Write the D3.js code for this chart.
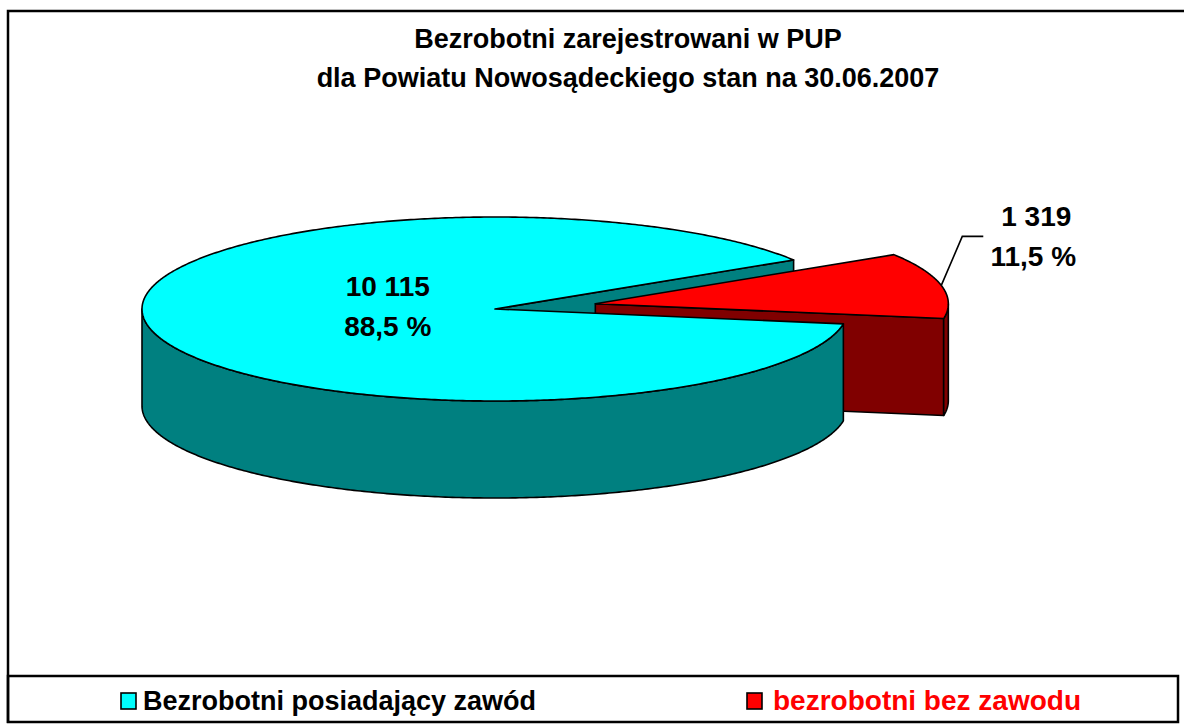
<!DOCTYPE html>
<html>
<head>
  <meta charset="utf-8" />
  <title>Bezrobotni zarejestrowani w PUP</title>
  <script src="https://d3js.org/d3.v7.min.js"></script>
  <style>
    body {
      margin: 0;
      background: #fff;
      font-family: Arial, "Liberation Sans", sans-serif;
    }
    svg text {
      font-weight: bold;
    }
  </style>
</head>
<body>
  <div id="chart"></div>

  <script>
    // data
    var categories = ["Bezrobotni posiadający zawód", "bezrobotni bez zawodu"];
    var values = [10115, 1319];
    var topColors = ["#00ffff", "#ff0000"];
    var sideColors = ["#008080", "#800000"];
    var legendTextColors = ["#000000", "#ff0000"];
    var explode = [0, 0.29];
    var titleLines = ["Bezrobotni zarejestrowani w PUP", "dla Powiatu Nowosądeckiego stan na 30.06.2007"];

    var width = 1184;
    var height = 724;

    // pie geometry (ellipse seen from above at an angle)
    var cx = 495, cy = 309;
    var rx = 353, ry = 92;
    var depth = 97;
    var rotation = 99.3 * Math.PI / 180;

    var pl = d3.formatLocale({ decimal: ",", thousands: " ", grouping: [3], currency: ["", " zł"] });
    var fmtNum = pl.format(",d");
    var fmtPct = pl.format(".1f");

    var svg = d3.select("#chart").append("svg")
      .attr("width", width)
      .attr("height", height);

    // frame
    svg.append("path")
      .attr("d", "M8,723V11H1190")
      .attr("fill", "none")
      .attr("stroke", "#000")
      .attr("stroke-width", 2.5);

    // title
    svg.append("g")
      .selectAll("text")
      .data(titleLines)
      .join("text")
      .attr("x", 628)
      .attr("y", (d, i) => 48 + i * 39)
      .attr("text-anchor", "middle")
      .attr("font-size", 27)
      .text(d => d);

    var total = d3.sum(values);
    var pie = d3.pie().sort(null).startAngle(rotation).endAngle(rotation + 2 * Math.PI);
    var arcs = pie(values).map(function (d, i) {
      var mid = (d.startAngle + d.endAngle) / 2 - Math.PI / 2;
      return {
        i: i,
        value: d.value,
        a0: d.startAngle - Math.PI / 2,
        a1: d.endAngle - Math.PI / 2,
        ox: cx + explode[i] * rx * Math.cos(mid),
        oy: cy + explode[i] * ry * Math.sin(mid),
        mid: mid
      };
    });

    function pt(s, t, dz) {
      return [s.ox + rx * Math.cos(t), s.oy + ry * Math.sin(t) + (dz || 0)];
    }

    function arcPoints(s, t0, t1, dz) {
      var n = Math.max(2, Math.ceil(Math.abs(t1 - t0) / 0.01));
      return d3.range(n + 1).map(k => pt(s, t0 + (t1 - t0) * k / n, dz));
    }

    var line = d3.line();

    // cut faces that face the viewer
    var faces = [];
    arcs.forEach(function (s) {
      if (s.value === total) return;
      if (Math.cos(s.a0) < 0) faces.push({ s: s, t: s.a0 });
      if (Math.cos(s.a1) > 0) faces.push({ s: s, t: s.a1 });
    });
    faces.forEach(f => {
      var e = pt(f.s, f.t);
      f.my = (f.s.oy + e[1]) / 2;
      f.pts = [[f.s.ox, f.s.oy], e, pt(f.s, f.t, depth), [f.s.ox, f.s.oy + depth]];
    });
    faces.sort((a, b) => a.my - b.my);

    // front walls: the part of each slice where sin(t) >= 0
    var walls = [];
    arcs.forEach(function (s) {
      for (var k = -1; k <= 2; k++) {
        var lo = Math.max(s.a0, 2 * Math.PI * k);
        var hi = Math.min(s.a1, 2 * Math.PI * k + Math.PI);
        if (hi > lo) {
          var topPts = arcPoints(s, lo, hi, 0);
          var botPts = arcPoints(s, hi, lo, depth);
          walls.push({ s: s, pts: topPts.concat(botPts) });
        }
      }
    });

    var pieG = svg.append("g")
      .attr("stroke", "#000")
      .attr("stroke-width", 1.6)
      .attr("stroke-linejoin", "round");

    pieG.append("g")
      .selectAll("path")
      .data(faces)
      .join("path")
      .attr("d", d => line(d.pts) + "Z")
      .attr("fill", d => sideColors[d.s.i]);

    pieG.append("g")
      .selectAll("path")
      .data(walls)
      .join("path")
      .attr("d", d => line(d.pts) + "Z")
      .attr("fill", d => sideColors[d.s.i]);

    // tops, exploded one first so the big slice overlaps it
    pieG.append("g")
      .selectAll("path")
      .data(arcs.slice().sort((a, b) => explode[b.i] - explode[a.i]))
      .join("path")
      .attr("d", d => line([[d.ox, d.oy]].concat(arcPoints(d, d.a0, d.a1, 0))) + "Z")
      .attr("fill", d => topColors[d.i]);

    // labels
    var lab = svg.append("g").attr("font-size", 28).attr("text-anchor", "middle");

    // inside label for the big slice
    var s0 = arcs[0];
    var lx = s0.ox + 0.31 * rx * Math.cos(s0.mid);
    var ly = s0.oy + 0.31 * ry * Math.sin(s0.mid);
    lab.append("text").attr("x", lx).attr("y", ly - 19).text(fmtNum(s0.value));
    lab.append("text").attr("x", lx).attr("y", ly + 21).text(fmtPct(s0.value / total * 100) + " %");

    // outside label with leader line for the small slice
    var s1 = arcs[1];
    var rim = pt(s1, s1.mid);
    var elbow = [rim[0] + 21, rim[1] - 49];
    var end = [elbow[0] + 21, elbow[1]];
    svg.append("path")
      .attr("d", line([rim, elbow, end]))
      .attr("fill", "none")
      .attr("stroke", "#000")
      .attr("stroke-width", 1.6);
    lab.append("text").attr("x", end[0] + 53).attr("y", end[1] - 10).text(fmtNum(s1.value));
    lab.append("text").attr("x", end[0] + 50).attr("y", end[1] + 30).text(fmtPct(s1.value / total * 100) + " %");

    // legend
    var legend = svg.append("g");
    legend.append("rect")
      .attr("x", 8).attr("y", 676)
      .attr("width", 1170).attr("height", 46)
      .attr("fill", "none")
      .attr("stroke", "#000")
      .attr("stroke-width", 2.5);

    var legendX = [121, 747];
    var legendSize = [27, 28];
    var item = legend.selectAll("g.item")
      .data(categories)
      .join("g")
      .attr("class", "item")
      .attr("transform", (d, i) => `translate(${legendX[i]},0)`);
    item.append("rect")
      .attr("x", 0).attr("y", 693)
      .attr("width", 15).attr("height", 16)
      .attr("fill", (d, i) => topColors[i])
      .attr("stroke", "#000")
      .attr("stroke-width", 1.6);
    item.append("text")
      .attr("x", (d, i) => i === 0 ? 22 : 26)
      .attr("y", 710)
      .attr("font-size", (d, i) => legendSize[i])
      .attr("fill", (d, i) => legendTextColors[i])
      .text(d => d);
  </script>
</body>
</html>
